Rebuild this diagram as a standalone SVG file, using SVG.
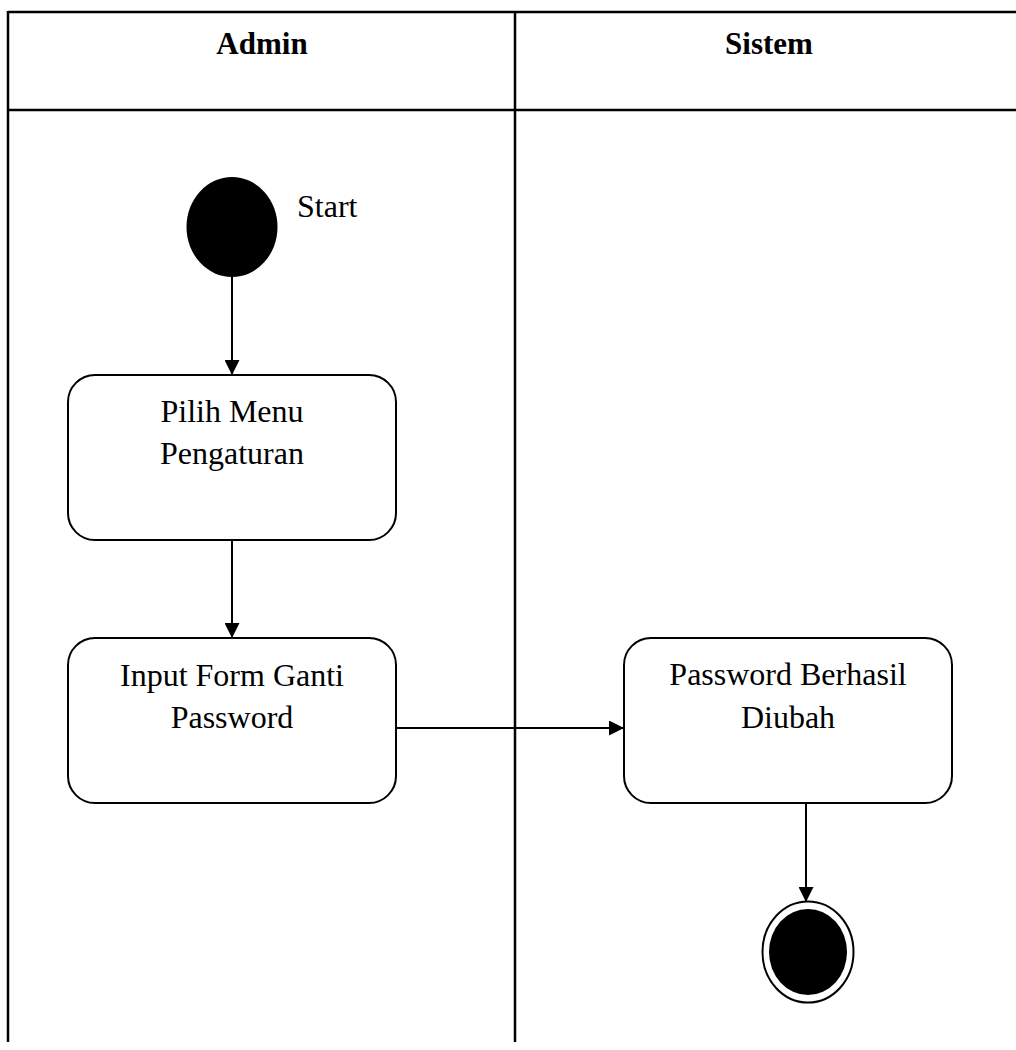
<svg xmlns="http://www.w3.org/2000/svg" width="1016" height="1050" viewBox="0 0 1016 1050">
<defs>
<style>
.lane{stroke:#000;stroke-width:2.5;fill:none}
.box{fill:#fff;stroke:#000;stroke-width:2}
.edge{stroke:#000;stroke-width:2;fill:none}
.t{font-family:"Liberation Serif","Times New Roman",serif;font-size:32px;fill:#000;text-anchor:middle}
.h{font-family:"Liberation Serif","Times New Roman",serif;font-size:31px;font-weight:bold;fill:#000;text-anchor:middle}
</style>
<marker id="arr" viewBox="0 0 10 10" refX="10" refY="5" markerWidth="15" markerHeight="15" markerUnits="userSpaceOnUse" orient="auto">
<path d="M0,0 L10,5 L0,10 z" fill="#000"/>
</marker>
</defs>
<rect width="1016" height="1050" fill="#fff"/>
<g id="swimlanes">
<line class="lane" x1="8" y1="12" x2="1016" y2="12"/>
<line class="lane" x1="8" y1="110" x2="1016" y2="110"/>
<line class="lane" x1="8" y1="11" x2="8" y2="1042"/>
<line class="lane" x1="515" y1="11" x2="515" y2="1042"/>
<text class="h" x="262" y="54">Admin</text>
<text class="h" x="769" y="54">Sistem</text>
</g>
<g id="connectors">
<line class="edge" x1="232" y1="277" x2="232" y2="375" marker-end="url(#arr)"/>
<line class="edge" x1="232" y1="540" x2="232" y2="638" marker-end="url(#arr)"/>
<line class="edge" x1="396" y1="728" x2="624" y2="728" marker-end="url(#arr)"/>
<line class="edge" x1="806" y1="803" x2="806" y2="902" marker-end="url(#arr)"/>
</g>
<g id="start">
<ellipse cx="232" cy="227" rx="45.5" ry="50" fill="#000"/>
<text class="t" x="297" y="217" style="text-anchor:start">Start</text>
</g>
<g id="pilih-menu">
<rect class="box" x="68" y="375" width="328" height="165" rx="27" ry="27"/>
<text class="t" x="232" y="422">Pilih Menu</text>
<text class="t" x="232" y="464">Pengaturan</text>
</g>
<g id="input-form">
<rect class="box" x="68" y="638" width="328" height="165" rx="27" ry="27"/>
<text class="t" x="232" y="686">Input Form Ganti</text>
<text class="t" x="232" y="728">Password</text>
</g>
<g id="password-berhasil">
<rect class="box" x="624" y="638" width="328" height="165" rx="27" ry="27"/>
<text class="t" x="788" y="685">Password Berhasil</text>
<text class="t" x="788" y="728">Diubah</text>
</g>
<g id="end">
<ellipse cx="808" cy="952" rx="45.5" ry="50.5" fill="#fff" stroke="#000" stroke-width="2"/>
<ellipse cx="808" cy="952" rx="39" ry="43" fill="#000"/>
</g>
</svg>
